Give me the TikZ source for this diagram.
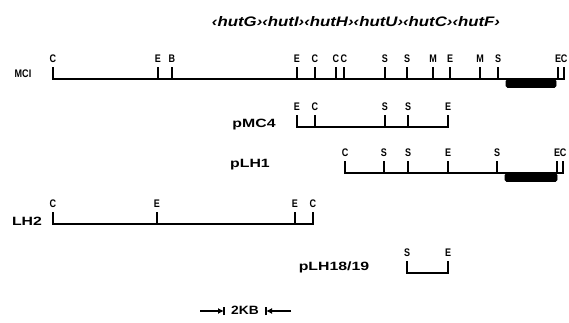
\documentclass[tikz,border=0pt]{standalone}
\usepackage{fontspec}
\usepackage{graphicx}
\setmainfont{Liberation Sans}
\usetikzlibrary{arrows.meta}
\newcommand\widetxt[1]{\scalebox{1.32}[1]{#1}}
\newcommand\narrowtxt[1]{\scalebox{0.82}[1]{#1}}
\newcommand\rsite[4]{%
  \coordinate (#1) at (#2,#3);
  \node[sitelbl] (#1l) at (#2,#3-20) {\narrowtxt{#4}};
  \draw[tick] (#1) -- ++(0,-11);
}
\begin{document}
\begin{tikzpicture}[x=1pt,y=-1pt,
  sitelbl/.style={font=\bfseries\fontsize{11}{12}\selectfont, inner sep=0pt},
  namelbl/.style={font=\bfseries\fontsize{12}{13}\selectfont, inner sep=0pt},
  tick/.style={line width=1.9pt, line cap=rect},
  dna/.style={line width=1.9pt, line cap=rect},
  blackbox/.style={draw=black, fill=black, rounded corners=1.5pt, inner sep=0pt, minimum height=8pt, line width=0.6pt},
  genestyle/.style={font=\bfseries\itshape\fontsize{10}{11}\selectfont, inner sep=0pt},
  barline/.style={line width=1.8pt}
]
\useasboundingbox (0,0) rectangle (569,323);

% gene labels
\node[genestyle] (genes) at (356,22) {\resizebox{288pt}{10pt}{‹hutG›‹hutI›‹hutH›‹hutU›‹hutC›‹hutF›}};

% MCI
\node[sitelbl] (nMCI) at (23,74) {\narrowtxt{MCI}};
\rsite{m1}{53}{79}{C}
\rsite{m2}{158}{79}{E}
\rsite{m3}{172}{79}{B}
\rsite{m4}{297}{79}{E}
\rsite{m5}{315}{79}{C}
\rsite{m6}{336}{79}{C}
\rsite{m7}{344}{79}{C}
\rsite{m8}{385}{79}{S}
\rsite{m9}{407}{79}{S}
\rsite{m10}{433}{79}{M}
\rsite{m11}{450}{79}{E}
\rsite{m12}{480}{79}{M}
\rsite{m13}{498}{79}{S}
\rsite{m14}{558}{79}{E}
\rsite{m15}{564}{79}{C}
\draw[dna] (m1) -- (m15);
\node[blackbox, minimum width=50pt] (mbox) at (531,83.5) {};

% pMC4
\node[namelbl] (npMC4) at (254,125) {\widetxt{pMC4}};
\rsite{a1}{297}{127}{E}
\rsite{a2}{315}{127}{C}
\rsite{a3}{385}{127}{S}
\rsite{a4}{408}{127}{S}
\rsite{a5}{448}{127}{E}
\draw[dna] (a1) -- (a5);

% pLH1
\node[namelbl] (npLH1) at (250,165) {\widetxt{pLH1}};
\rsite{b1}{345}{173}{C}
\rsite{b2}{384}{173}{S}
\rsite{b3}{408}{173}{S}
\rsite{b4}{448}{173}{E}
\rsite{b5}{497}{173}{S}
\rsite{b6}{557}{173}{E}
\rsite{b7}{563}{173}{C}
\draw[dna] (b1) -- (b7);
\node[blackbox, minimum width=52pt] (bbox) at (531,177.5) {};

% LH2
\node[namelbl] (nLH2) at (27,221) {\widetxt{LH2}};
\rsite{c1}{53}{224}{C}
\rsite{c2}{157}{224}{E}
\rsite{c3}{295}{224}{E}
\rsite{c4}{313}{224}{C}
\draw[dna] (c1) -- (c4);

% pLH18/19
\node[namelbl] (npLH18) at (334,267) {\widetxt{pLH18/19}};
\rsite{d1}{407}{273}{S}
\rsite{d2}{448}{273}{E}
\draw[dna] (d1) -- (d2);

% scale bar
\node[namelbl] (kb) at (245,310) {\scalebox{1.15}[1]{2KB}};
\coordinate (kl) at (224,311);
\coordinate (kr) at (266,311);
\coordinate (klt) at (200,311);
\coordinate (krt) at (291,311);
\draw[barline, -{Latex[length=6pt,width=6pt]}] (klt) -- (kl);
\draw[barline, -{Latex[length=6pt,width=6pt]}] (krt) -- (kr);
\draw[barline] ([yshift=-4pt]kl) -- ([yshift=4pt]kl);
\draw[barline] ([yshift=-4pt]kr) -- ([yshift=4pt]kr);
\end{tikzpicture}
\end{document}
